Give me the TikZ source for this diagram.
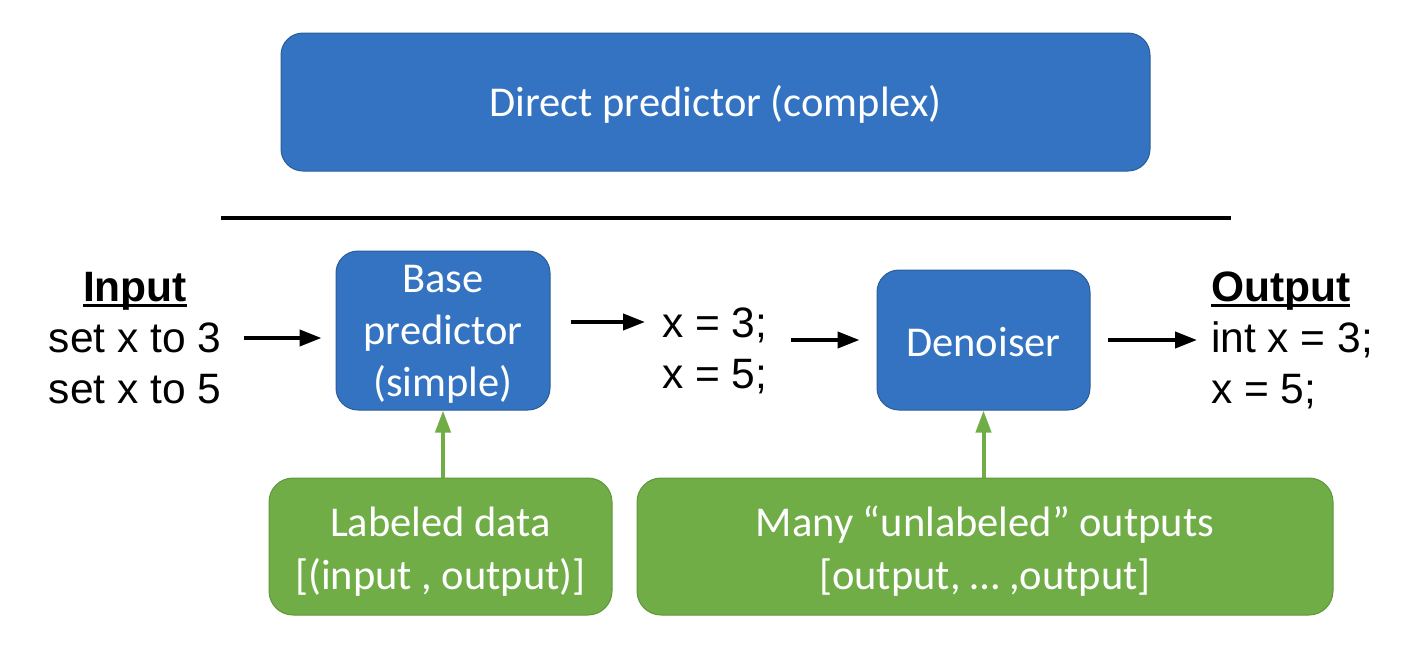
\documentclass[tikz,border=0pt]{standalone}
\usepackage{fontspec}
\setmainfont{Liberation Sans}
\newfontfamily\calib{Carlito}
\newsavebox\ulbox
\newcommand\myul[1]{\sbox\ulbox{#1}\rlap{\rule[-6pt]{\wd\ulbox}{3pt}}\usebox\ulbox}
\newcommand\dn[2]{\raisebox{-#1pt}[\height][\depth]{#2}}
\usetikzlibrary{arrows.meta}
\definecolor{boxblue}{RGB}{51,115,193}
\definecolor{boxblueedge}{RGB}{44,92,150}
\definecolor{boxgreen}{RGB}{112,173,71}
\definecolor{boxgreenedge}{RGB}{96,150,60}
\tikzset{
  bluebox/.style={draw=boxblueedge, line width=1pt, fill=boxblue, rounded corners=22pt,
    text=white, align=center, inner sep=0pt, font=\calib\fontsize{42.5}{52}\selectfont},
  greenbox/.style={draw=boxgreenedge, line width=1pt, fill=boxgreen, rounded corners=24pt,
    text=white, align=center, inner sep=0pt, font=\calib\fontsize{42.5}{53}\selectfont},
  plain/.style={inner sep=0pt, font=\fontsize{42.5}{51}\selectfont},
  arr/.style={line width=4pt, -{Triangle[length=22pt,width=16pt]}},
  garr/.style={draw=boxgreen, line width=4pt, -{Triangle[length=22pt,width=15pt]}}
}
\begin{document}
\begin{tikzpicture}[x=1pt,y=-1pt]
\useasboundingbox (0,0) rectangle (1402,659);
\node[bluebox, minimum width=869pt, minimum height=138pt] (top) at (715.5,102) {\dn{2}{Direct predictor (complex)}};
\coordinate (ls) at (221,218);
\coordinate (le) at (1231,218);
\draw[line width=3.5pt] (ls) -- (le);
\node[bluebox, minimum width=214pt, minimum height=159pt] (base) at (443,330.5) {\dn{4}{Base}\\\dn{4}{predictor}\\\dn{4}{(simple)}};
\node[bluebox, minimum width=213pt, minimum height=140pt] (den) at (983.5,340) {\dn{2}{Denoiser}};
\node[greenbox, minimum width=343pt, minimum height=137pt] (lab) at (440.5,546.5) {\dn{5}{Labeled data}\\\dn{5}{[(input , output)]}};
\node[greenbox, minimum width=696pt, minimum height=137pt] (many) at (985,546.5) {\dn{5}{Many “unlabeled” outputs}\\\dn{5}{[output, … ,output]}};
\node[plain, align=center] (inp) at (135,338) {\myul{\textbf{Input}}\\set x to 3\\set x to 5};
\node[plain, align=left, anchor=west] (mid) at (662,351) {x = 3;\\x = 5;};
\node[plain, align=left, anchor=west] (out) at (1211,340) {\myul{\textbf{Output}}\\int x = 3;\\x = 5;};
\draw[arr, shorten <=22.5pt, shorten >=14pt] (inp.east) -- (inp.east -| base.west);
\draw[arr, shorten <=20pt, shorten >=17pt] ([yshift=8.5pt]base.east) -- ([yshift=8.5pt]base.east -| mid.west);
\draw[arr, shorten <=23pt, shorten >=17pt] (den.west -| mid.east) -- (den.west);
\draw[arr, shorten <=17pt, shorten >=14pt] (den.east) -- (den.east -| out.west);
\draw[garr] (base.south |- lab.north) -- (base.south);
\draw[garr] (den.south |- many.north) -- (den.south);
\end{tikzpicture}
\end{document}
